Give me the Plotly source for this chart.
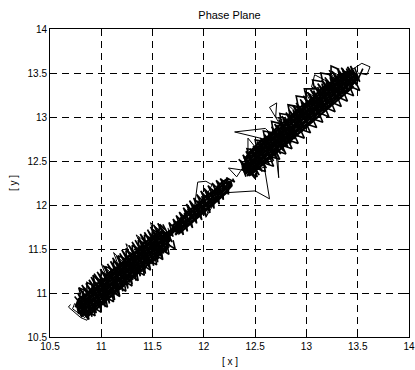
import plotly.graph_objects as go

# ---- data: trajectory (x, y), segment by segment ----
start_loop = [(10.70,10.87),(10.68,10.84),(10.80,10.72),(10.86,10.69),(10.88,10.74),
              (10.74,10.88),(10.72,10.82),(10.84,10.72),(10.90,10.80)]

lower_pass_a = [(10.74,10.96),(10.88,10.76),(10.77,11.00),(10.92,10.79),(10.79,11.05),(10.95,10.82),
                (10.81,11.09),(10.98,10.84),(10.85,11.11),(11.01,10.86),(10.88,11.15),(11.05,10.88),
                (10.90,11.18),(11.07,10.92),(10.93,11.22),(11.10,10.95),(10.96,11.24),(11.13,10.99),
                (10.99,11.27),(11.17,11.01),(11.02,11.31),(11.19,11.04),(11.06,11.33),(11.22,11.07),
                (11.09,11.36),(11.26,11.09),(11.11,11.40),(11.28,11.12),(11.15,11.42),(11.31,11.15),
                (11.18,11.45),(11.34,11.18),(11.20,11.49),(11.38,11.21),(11.24,11.51),(11.40,11.24),
                (11.27,11.54),(11.43,11.27),(11.30,11.58),(11.47,11.30),(11.33,11.60),(11.49,11.33),
                (11.36,11.63),(11.52,11.36),(11.38,11.67),(11.56,11.39),(11.42,11.69),(11.58,11.42),
                (11.45,11.72),(11.61,11.45),(11.48,11.75),(11.64,11.49),(11.51,11.77),(11.67,11.53),
                (11.55,11.79),(11.69,11.58),(11.60,11.78)]

lower_pass_b = [(11.66,11.66),(11.63,11.46),(11.58,11.70),(11.59,11.40),(11.53,11.66),(11.55,11.35),
                (11.48,11.62),(11.51,11.31),(11.44,11.57),(11.47,11.28),(11.39,11.55),(11.43,11.22),
                (11.35,11.50),(11.38,11.19),(11.31,11.46),(11.34,11.14),(11.26,11.43),(11.30,11.10),
                (11.22,11.38),(11.26,11.05),(11.18,11.33),(11.21,11.02),(11.13,11.30),(11.17,10.97),
                (11.09,11.25),(11.13,10.92),(11.04,11.21),(11.08,10.88),(11.00,11.16),(11.04,10.84),
                (10.95,11.12),(11.00,10.80),(10.91,11.08),(10.95,10.77),(10.86,11.03),(10.91,10.73),
                (10.82,10.98),(10.87,10.75),(10.78,10.93),(10.84,10.78)]

lower_top_edge = [(10.80,10.98),(10.78,11.06),(10.86,11.02),(10.86,11.12),(10.93,11.08),(10.92,11.20),
                  (10.99,11.14),(11.00,11.24),(11.06,11.20),(11.04,11.30),(11.12,11.26),(11.12,11.36),
                  (11.18,11.32),(11.17,11.42),(11.25,11.38),(11.24,11.48),(11.31,11.44),(11.30,11.54),
                  (11.37,11.50),(11.36,11.60),(11.43,11.56),(11.42,11.66),(11.49,11.62),(11.50,11.72),
                  (11.56,11.68),(11.57,11.78),(11.62,11.72)]

lower_bottom_edge = [(11.70,11.60),(11.72,11.50),(11.64,11.56),(11.66,11.44),(11.58,11.50),(11.60,11.38),
                     (11.52,11.44),(11.54,11.32),(11.46,11.38),(11.48,11.26),(11.40,11.32),(11.42,11.20),
                     (11.34,11.26),(11.36,11.14),(11.28,11.20),(11.30,11.08),(11.22,11.14),(11.24,11.02),
                     (11.16,11.08),(11.18,10.96),(11.10,11.02),(11.12,10.90),(11.04,10.96),(11.06,10.84),
                     (10.98,10.90),(11.00,10.78),(10.92,10.84),(10.94,10.74),(10.86,10.80),(10.88,10.70),
                     (10.80,10.80)]

lower_fill = [(10.84,10.74),(10.92,10.83),(11.00,10.89),(11.08,10.99),(11.16,11.05),(11.24,11.15),
              (11.32,11.21),(11.40,11.31),(11.48,11.37),(11.56,11.47),(11.64,11.53),
              (11.66,11.63),(11.58,11.53),(11.50,11.47),(11.42,11.37),(11.34,11.31),(11.26,11.21),
              (11.18,11.15),(11.10,11.05),(11.02,10.99),(10.94,10.89),(10.86,10.83),(10.80,10.76),
              (10.78,10.81),(10.86,10.89),(10.94,10.95),(11.02,11.05),(11.10,11.11),(11.18,11.21),
              (11.26,11.27),(11.34,11.37),(11.42,11.43),(11.50,11.53),(11.58,11.59),(11.64,11.67),
              (11.60,11.69),(11.52,11.59),(11.44,11.53),(11.36,11.43),(11.28,11.37),(11.20,11.27),
              (11.12,11.21),(11.04,11.11),(10.96,11.05),(10.88,10.95),(10.80,10.89),(10.75,10.84),
              (10.78,10.93),(10.86,10.99),(10.94,11.09),(11.02,11.15),(11.10,11.25),(11.18,11.31),
              (11.26,11.41),(11.34,11.47),(11.42,11.57),(11.50,11.63),(11.56,11.71)]

lower_fill_2 = [(10.80,10.73),(10.88,10.81),(10.96,10.89),(11.04,10.97),(11.12,11.05),(11.20,11.13),
                (11.28,11.21),(11.36,11.29),(11.44,11.37),(11.52,11.45),(11.60,11.53),(11.66,11.59),
                (11.66,11.65),(11.58,11.57),(11.50,11.49),(11.42,11.41),(11.34,11.33),(11.26,11.25),
                (11.18,11.17),(11.10,11.09),(11.02,11.01),(10.94,10.93),(10.86,10.85),(10.78,10.78),
                (10.77,10.83),(10.85,10.90),(10.93,10.98),(11.01,11.06),(11.09,11.14),(11.17,11.22),
                (11.25,11.30),(11.33,11.38),(11.41,11.46),(11.49,11.54),(11.57,11.62),(11.63,11.68),
                (11.58,11.69),(11.50,11.61),(11.42,11.53),(11.34,11.45),(11.26,11.37),(11.18,11.29),
                (11.10,11.21),(11.02,11.13),(10.94,11.05),(10.86,10.97),(10.78,10.89),
                (10.86,10.73),(10.94,10.81),(11.02,10.89),(11.10,10.97),(11.18,11.05),(11.26,11.13),
                (11.34,11.21),(11.42,11.29),(11.50,11.37),(11.58,11.45),(11.66,11.53)]

lower_pass_c = [(10.80,10.92),(10.84,11.06),(10.92,10.90),(10.98,10.97),(10.92,11.20),(11.05,11.02),
                (11.12,10.98),(11.06,11.16),(11.00,11.33),(11.14,11.18),(11.22,11.08),(11.17,11.30),
                (11.12,11.46),(11.25,11.31),(11.33,11.20),(11.29,11.40),(11.24,11.56),(11.36,11.44),
                (11.45,11.32),(11.40,11.52),(11.34,11.66),(11.47,11.55),(11.57,11.44),(11.52,11.64),
                (11.48,11.80),(11.60,11.68),(11.68,11.60),(11.65,11.74)]

neck = [(11.58,11.62),(11.66,11.70),(11.74,11.76),(11.68,11.66),(11.62,11.64),(11.72,11.72),
        (11.78,11.80),(11.70,11.74),(11.76,11.70)]

middle_pass_a = [(11.70,11.64),(11.66,11.80),(11.74,11.70),(11.70,11.84),(11.78,11.73),(11.73,11.88),
                 (11.82,11.77),(11.76,11.92),(11.86,11.80),(11.80,11.97),(11.89,11.84),(11.83,12.01),
                 (11.93,11.87),(11.86,12.05),(11.96,11.91),(11.90,12.08),(12.00,11.95),(11.93,12.12),
                 (12.04,11.98),(11.97,12.16),(12.07,12.02),(12.00,12.19),(12.11,12.06),(12.04,12.22),
                 (12.14,12.10),(12.08,12.25),(12.18,12.13),(12.12,12.28),(12.22,12.17),(12.16,12.30),
                 (12.26,12.21),(12.22,12.31),(12.30,12.26),(12.28,12.30)]

middle_pass_b = [(12.24,12.27),(12.24,12.12),(12.18,12.26),(12.19,12.06),(12.13,12.22),(12.15,12.01),
                 (12.08,12.18),(12.10,11.96),(12.03,12.14),(12.06,11.91),(11.98,12.10),(12.02,11.87),
                 (11.94,12.05),(11.98,11.83),(11.90,12.00),(11.93,11.79),(11.85,11.96),(11.89,11.74),
                 (11.81,11.91),(11.84,11.70),(11.77,11.86),(11.80,11.66),(11.73,11.80)]

middle_fill = [(11.72,11.66),(11.80,11.75),(11.88,11.81),(11.96,11.91),(12.04,11.97),(12.12,12.07),
               (12.20,12.13),(12.27,12.22),
               (12.26,12.27),(12.18,12.17),(12.10,12.11),(12.02,12.01),(11.94,11.95),(11.86,11.85),
               (11.78,11.79),(11.70,11.69),
               (11.70,11.77),(11.78,11.84),(11.86,11.94),(11.94,12.00),(12.02,12.10),(12.10,12.16),
               (12.18,12.26),(12.24,12.30)]

middle_fill_2 = [(11.72,11.69),(11.80,11.77),(11.88,11.85),(11.96,11.93),(12.04,12.01),(12.12,12.09),
                 (12.20,12.17),(12.27,12.24),
                 (12.22,12.26),(12.14,12.18),(12.06,12.10),(11.98,12.02),(11.90,11.94),(11.82,11.86),
                 (11.74,11.78),
                 (11.76,11.68),(11.84,11.76),(11.92,11.84),(12.00,11.92),(12.08,12.00),(12.16,12.08),
                 (12.24,12.16)]

middle_pass_c = [(11.78,11.78),(11.84,11.95),(11.90,11.90),(11.94,12.26),(12.02,12.27),(12.08,12.23),
                 (12.04,12.14),(12.08,12.08),(12.02,11.86),(12.10,12.02),(12.16,12.20),(12.22,12.14)]

crossing = [(12.22,12.14),(12.50,12.16),(12.64,12.07),(12.59,12.43),(12.45,12.38),(12.36,12.40),
            (12.24,12.42),(12.32,12.32),(12.40,12.46)]

upper_pass_a = [(12.40,12.46),(12.34,12.52),(12.50,12.30),(12.38,12.57),(12.54,12.34),(12.41,12.61),(12.57,12.38),
                (12.45,12.64),(12.61,12.42),(12.48,12.67),(12.64,12.46),(12.52,12.72),(12.68,12.50),
                (12.55,12.76),(12.71,12.53),(12.59,12.80),(12.75,12.58),(12.62,12.84),(12.78,12.61),
                (12.66,12.89),(12.82,12.66),(12.69,12.92),(12.85,12.70),(12.73,12.97),(12.89,12.75),
                (12.76,13.01),(12.92,12.78),(12.80,13.05),(12.96,12.83),(12.83,13.08),(12.99,12.86),
                (12.87,13.13),(13.03,12.91),(12.90,13.16),(13.06,12.94),(12.94,13.20),(13.10,12.98),
                (12.97,13.24),(13.13,13.02),(13.01,13.28),(13.17,13.06),(13.04,13.31),(13.20,13.09),
                (13.08,13.35),(13.24,13.13),(13.11,13.38),(13.27,13.16),(13.15,13.42),(13.31,13.20),
                (13.18,13.45),(13.34,13.23),(13.22,13.49),(13.38,13.27),(13.25,13.52),(13.41,13.30),
                (13.30,13.55),(13.44,13.34),(13.34,13.56),(13.47,13.38),(13.40,13.57),(13.50,13.42),
                (13.55,13.55)]

upper_pass_b = [(13.47,13.56),(13.52,13.40),(13.43,13.58),(13.49,13.36),(13.39,13.55),(13.45,13.33),
                (13.35,13.55),(13.41,13.29),(13.31,13.52),(13.37,13.27),(13.27,13.49),(13.33,13.23),
                (13.23,13.45),(13.29,13.19),(13.19,13.42),(13.25,13.15),(13.15,13.38),(13.21,13.12),
                (13.11,13.34),(13.17,13.08),(13.07,13.30),(13.13,13.04),(13.03,13.26),(13.09,13.00),
                (12.99,13.21),(13.05,12.96),(12.95,13.17),(13.01,12.92),(12.91,13.13),(12.97,12.87),
                (12.87,13.08),(12.93,12.83),(12.83,13.04),(12.89,12.78),(12.79,13.00),(12.85,12.74),
                (12.75,12.95),(12.81,12.70),(12.71,12.91),(12.77,12.66),(12.67,12.86),(12.73,12.61),
                (12.63,12.82),(12.69,12.57),(12.59,12.77),(12.65,12.52),(12.55,12.72),(12.61,12.48),
                (12.51,12.68),(12.57,12.44),(12.47,12.63),(12.53,12.40),(12.43,12.59),(12.49,12.36),
                (12.39,12.55),(12.45,12.33),(12.36,12.50),(12.41,12.32)]

upper_top_edge = [(12.45,12.52),(12.42,12.64),(12.52,12.62),(12.50,12.74),(12.60,12.72),(12.58,12.84),
                  (12.68,12.82),(12.66,12.95),(12.76,12.92),(12.74,13.04),(12.84,13.02),(12.82,13.14),
                  (12.92,13.12),(12.90,13.24),(13.00,13.22),(12.98,13.32),(13.08,13.32),(13.06,13.42),
                  (13.16,13.40),(13.14,13.50),(13.24,13.48),(13.24,13.58),(13.32,13.54)]

upper_bottom_edge = [(13.48,13.40),(13.52,13.30),(13.42,13.35),(13.46,13.24),(13.36,13.29),(13.40,13.18),
                     (13.30,13.23),(13.34,13.12),(13.24,13.17),(13.28,13.06),(13.18,13.11),(13.22,13.00),
                     (13.12,13.05),(13.16,12.94),(13.06,12.98),(13.10,12.88),(13.00,12.92),(13.04,12.82),
                     (12.94,12.86),(12.98,12.76),(12.88,12.80),(12.92,12.70),(12.82,12.74),(12.86,12.64),
                     (12.76,12.68),(12.80,12.58),(12.70,12.62),(12.74,12.52),(12.64,12.55),(12.68,12.44),
                     (12.58,12.48),(12.60,12.38),(12.50,12.42),(12.52,12.32),(12.44,12.38)]

upper_fill = [(12.42,12.33),(12.52,12.45),(12.62,12.53),(12.72,12.65),(12.82,12.73),(12.92,12.85),
              (13.02,12.93),(13.12,13.05),(13.22,13.13),(13.32,13.25),(13.42,13.33),(13.50,13.44),
              (13.48,13.48),(13.38,13.35),(13.28,13.27),(13.18,13.15),(13.08,13.07),(12.98,12.95),
              (12.88,12.87),(12.78,12.75),(12.68,12.67),(12.58,12.55),(12.48,12.47),(12.40,12.37),
              (12.38,12.43),(12.48,12.51),(12.58,12.63),(12.68,12.71),(12.78,12.83),(12.88,12.91),
              (12.98,13.03),(13.08,13.11),(13.18,13.23),(13.28,13.31),(13.38,13.43),(13.46,13.50),
              (13.40,13.51),(13.30,13.39),(13.20,13.31),(13.10,13.19),(13.00,13.11),(12.90,12.99),
              (12.80,12.91),(12.70,12.79),(12.60,12.71),(12.50,12.59),(12.40,12.51),
              (12.44,12.59),(12.54,12.71),(12.64,12.79),(12.74,12.91),(12.84,12.99),(12.94,13.11),
              (13.04,13.19),(13.14,13.31),(13.24,13.39),(13.34,13.50)]

upper_fill_2 = [(12.40,12.35),(12.50,12.45),(12.60,12.55),(12.70,12.65),(12.80,12.75),(12.90,12.85),
                (13.00,12.95),(13.10,13.05),(13.20,13.15),(13.30,13.25),(13.40,13.35),(13.50,13.45),
                (13.47,13.48),(13.37,13.38),(13.27,13.28),(13.17,13.18),(13.07,13.08),(12.97,12.98),
                (12.87,12.88),(12.77,12.78),(12.67,12.68),(12.57,12.58),(12.47,12.48),(12.38,12.39),
                (12.40,12.47),(12.50,12.57),(12.60,12.67),(12.70,12.77),(12.80,12.87),(12.90,12.97),
                (13.00,13.07),(13.10,13.17),(13.20,13.27),(13.30,13.37),(13.42,13.49),
                (13.38,13.51),(13.28,13.41),(13.18,13.31),(13.08,13.21),(12.98,13.11),(12.88,13.01),
                (12.78,12.91),(12.68,12.81),(12.58,12.71),(12.48,12.61),(12.40,12.53),
                (12.46,12.35),(12.56,12.45),(12.66,12.55),(12.76,12.65),(12.86,12.75),(12.96,12.85),
                (13.06,12.95),(13.16,13.05),(13.26,13.15),(13.36,13.25),(13.46,13.35)]

upper_pass_c = [(12.41,12.40),(12.50,12.55),(12.43,12.62),(12.43,12.76),(12.50,12.66),(12.58,12.58),
                (12.72,12.57),(12.73,12.31),(12.70,12.62),(12.62,12.74),(12.30,12.83),(12.60,12.87),
                (12.66,12.80),(12.80,12.76),(12.74,12.92),(12.64,13.11),(12.71,13.16),(12.70,13.00),
                (12.86,12.92),(12.94,12.86),(12.90,13.05),(12.82,13.14),(12.98,13.08),(13.08,12.98),
                (13.04,13.18),(12.98,13.30),(13.12,13.20),(13.22,13.10),(13.16,13.28),(13.05,13.34),
                (13.08,13.48),(13.21,13.40),(13.26,13.30),(13.34,13.24),(13.28,13.42),(13.22,13.53),
                (13.36,13.45),(13.46,13.40),(13.42,13.52),(13.54,13.61),(13.62,13.57),(13.59,13.48),
                (13.50,13.50)]

tick_values = [10.5, 11, 11.5, 12, 12.5, 13, 13.5, 14]
tick_labels = ["10.5", "11", "11.5", "12", "12.5", "13", "13.5", "14"]

# heavy strokes fill the solid body of the band, medium strokes give the spiky fringe,
# thin strokes are the loose excursions
fill_segments = [lower_fill, lower_fill_2, neck, middle_fill, middle_fill_2, upper_fill, upper_fill_2]
core_segments = [lower_pass_a, lower_pass_b, lower_top_edge, lower_bottom_edge,
                 middle_pass_a, middle_pass_b,
                 upper_pass_a, upper_pass_b, upper_top_edge, upper_bottom_edge]
thin_segments = [start_loop, lower_pass_c, middle_pass_c, crossing, upper_pass_c]

FONT = "Liberation Sans, Arial, Helvetica, sans-serif"

W, H = 415, 370
L, R, T, B = 50, 6, 29, 33
PW, PH = W - L - R, H - T - B


def add_segments(fig, segs, width):
    for seg in segs:
        fig.add_trace(go.Scatter(x=[p[0] for p in seg], y=[p[1] for p in seg], mode="lines",
                                 line=dict(color="black", width=width, simplify=False),
                                 showlegend=False, hoverinfo="skip"))


fig = go.Figure()
add_segments(fig, fill_segments, 2.4)
add_segments(fig, core_segments, 1.6)
add_segments(fig, thin_segments, 1)

axis_common = dict(
    range=[10.5, 14], tickmode="array", tickvals=tick_values, ticktext=tick_labels,
    showline=True, linecolor="black", linewidth=1, mirror="ticks",
    ticks="inside", ticklen=4, tickcolor="black", tickwidth=1,
    showgrid=True, gridcolor="black", gridwidth=1, griddash="7px,5px",
    zeroline=False, automargin=False, ticklabeloverflow="allow",
    tickfont=dict(family=FONT, size=10, color="black"),
)

fig.update_layout(
    width=W, height=H,
    margin=dict(l=L, r=R, t=T, b=B),
    paper_bgcolor="white", plot_bgcolor="white",
    font=dict(family=FONT, size=10, color="black"),
    title=dict(text="Phase Plane", x=(L + PW / 2) / W, xanchor="center",
               y=1 - 15 / H, yanchor="middle", yref="container",
               font=dict(family=FONT, size=11, color="black")),
    xaxis=dict(**axis_common),
    yaxis=dict(**axis_common),
    annotations=[
        dict(text="[ x ]", xref="paper", yref="paper", x=0.5, y=-24 / PH,
             xanchor="center", yanchor="middle", showarrow=False,
             font=dict(family=FONT, size=10, color="black")),
        dict(text="[ y ]", xref="paper", yref="paper", x=-(L - 13) / PW, y=0.5,
             xanchor="center", yanchor="middle", textangle=-90, showarrow=False,
             font=dict(family=FONT, size=10, color="black")),
    ],
)

# remove the page's default body margin so the 415x370 figure fills the window exactly
fig.write_html("out.html", config={"displayModeBar": False},
               post_script="document.body.style.margin='0';document.body.style.overflow='hidden';")
